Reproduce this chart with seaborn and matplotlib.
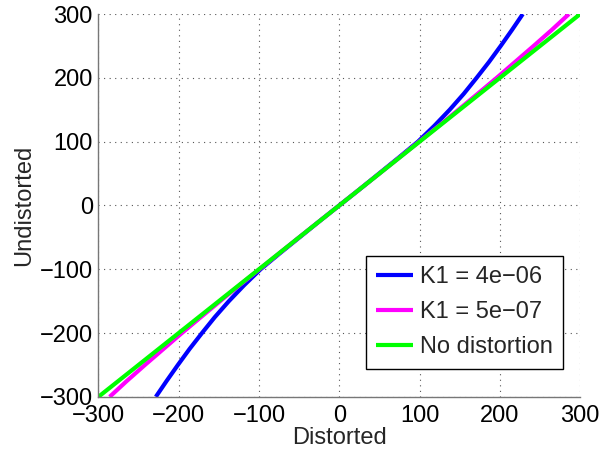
import numpy as np
import pandas as pd
import matplotlib
matplotlib.use("Agg")
import matplotlib.pyplot as plt
import seaborn as sns
from matplotlib.ticker import MultipleLocator

# Undistorted radius (y) against distorted radius (x) for two K1 values
undist = [-300, -275, -250, -225, -200, -175, -150, -125, -100, -75, -50, -25, 0,
          25, 50, 75, 100, 125, 150, 175, 200, 225, 250, 275, 300]
dist_k1_4e6 = [-228.5, -215, -201, -186.5, -171, -155, -137.5, -118.5, -98, -74, -49.5, -25, 0,
               25, 49.5, 74, 98, 118.5, 137.5, 155, 171, 186.5, 201, 215, 228.5]
dist_k1_5e7 = [-286, -264.5, -242, -219, -196, -172.3, -148.4, -124.2, -99.5, -74.8, -50, -25, 0,
               25, 50, 74.8, 99.5, 124.2, 148.4, 172.3, 196, 219, 242, 264.5, 286]
dist_none = [-300, 300]
undist_none = [-300, 300]

labels = ["K1 = 4e\u221206", "K1 = 5e\u221207", "No distortion"]
colors = ["#0000ff", "#ff00ff", "#00ff00"]

df = pd.concat([
    pd.DataFrame({"Distorted": dist_k1_4e6, "Undistorted": undist, "series": labels[0]}),
    pd.DataFrame({"Distorted": dist_k1_5e7, "Undistorted": undist, "series": labels[1]}),
    pd.DataFrame({"Distorted": dist_none, "Undistorted": undist_none, "series": labels[2]}),
], ignore_index=True)

sns.set_style("white")
plt.rcParams["font.family"] = ["Liberation Sans", "DejaVu Sans"]

FS = 17

fig = plt.figure(figsize=(6.0, 4.53), dpi=100)
ax = fig.add_axes([0.164, 0.124, 0.803, 0.845])

sns.lineplot(data=df, x="Distorted", y="Undistorted", hue="series",
             palette=dict(zip(labels, colors)), hue_order=labels,
             sort=False, estimator=None, linewidth=3.0, ax=ax)
for line in ax.get_lines():
    line.set_solid_joinstyle("round")
    line.set_solid_capstyle("butt")

ax.set_xlim(-300, 300)
ax.set_ylim(-300, 300)
ax.xaxis.set_major_locator(MultipleLocator(100))
ax.yaxis.set_major_locator(MultipleLocator(100))
ax.xaxis.set_minor_locator(MultipleLocator(10))
ax.yaxis.set_minor_locator(MultipleLocator(10))
ax.set_xticklabels([f"{int(v)}".replace("-", "\u2212") for v in ax.get_xticks()])
ax.set_yticklabels([f"{int(v)}".replace("-", "\u2212") for v in ax.get_yticks()])

ax.grid(True, which="major", linestyle=(0, (1, 4)), color="#555555", linewidth=0.8)
for side in ["top", "right"]:
    ax.spines[side].set_visible(False)
for side in ["left", "bottom"]:
    ax.spines[side].set_color("#777777")
    ax.spines[side].set_linewidth(1.0)
ax.tick_params(which="major", direction="in", length=4, color="#777777",
               labelsize=FS, labelcolor="black")
ax.tick_params(axis="x", which="major", pad=6)
ax.tick_params(axis="y", which="major", pad=4)
ax.tick_params(which="minor", direction="in", length=2, color="#888888")

ax.set_xlabel("Distorted", fontsize=FS, labelpad=0)
ax.set_ylabel("Undistorted", fontsize=FS, labelpad=3)

leg = ax.legend(loc="lower right", fontsize=FS, frameon=True, fancybox=False,
                edgecolor="black", framealpha=1.0, handlelength=1.55,
                borderaxespad=0.0, bbox_to_anchor=(0.965, 0.073),
                labelspacing=0.55, handletextpad=0.3, borderpad=0.45)
leg.get_frame().set_linewidth(1.0)
for line in leg.get_lines():
    line.set_linewidth(3.0)

fig.savefig("out.png", dpi=100)
